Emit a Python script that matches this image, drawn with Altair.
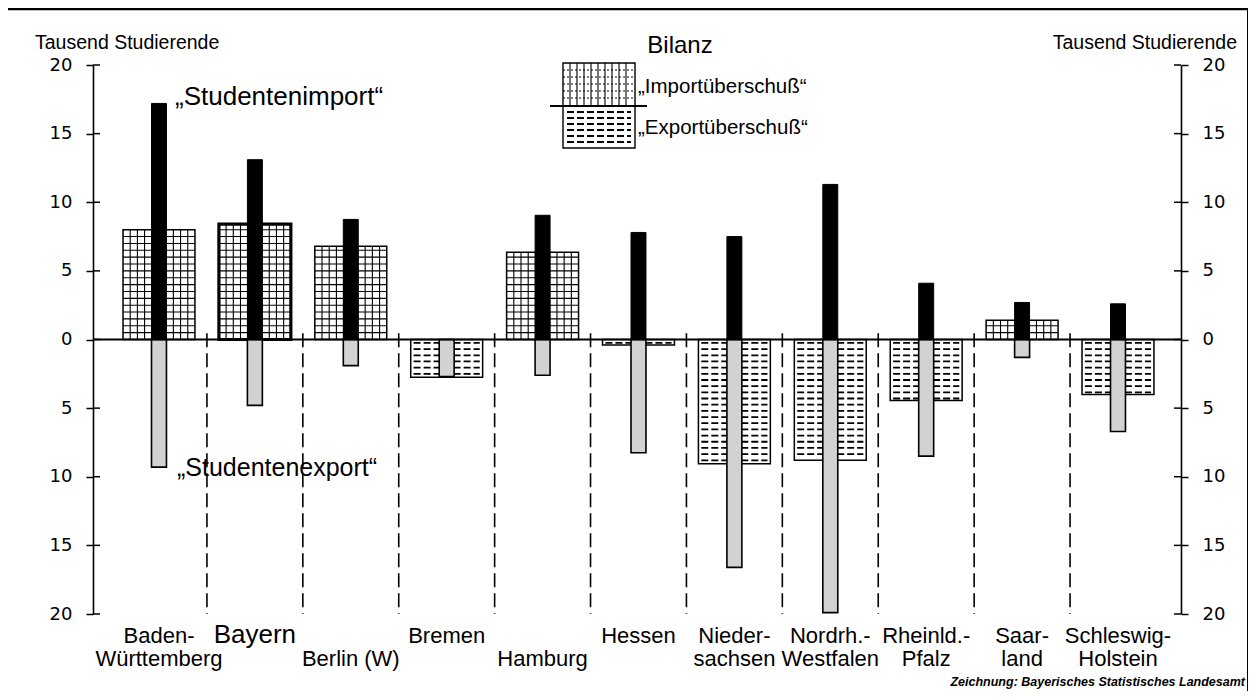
import altair as alt
import pandas as pd
import numpy as np

# ---------------- data (thousand students) ----------------
states = ["Baden-Württemberg", "Bayern", "Berlin (W)", "Bremen", "Hamburg", "Hessen",
          "Niedersachsen", "Nordrhein-Westfalen", "Rheinland-Pfalz", "Saarland",
          "Schleswig-Holstein"]
tick_labels = ["Baden-\nWürttemberg", "Bayern", "\nBerlin (W)", "Bremen", "\nHamburg",
               "Hessen", "Nieder-\nsachsen", "Nordrh.-\nWestfalen", "Rheinld.-\nPfalz",
               "Saar-\nland", "Schleswig-\nHolstein"]
import_k = [17.2, 13.1, 8.75, 0.0, 9.05, 7.8, 7.5, 11.3, 4.1, 2.7, 2.6]
export_k = [9.3, 4.8, 1.9, 2.7, 2.6, 8.25, 16.6, 19.9, 8.5, 1.3, 6.7]
balance_k = [8.0, 8.4, 6.8, -2.75, 6.35, -0.4, -9.05, -8.8, -4.45, 1.4, -4.0]
y_ticks = [-20, -15, -10, -5, 0, 5, 10, 15, 20]

n = len(states)
df = pd.DataFrame({
    "idx": list(range(n)),
    "state": states,
    "label": tick_labels,
    "imp": import_k,
    "exp": [-v for v in export_k],
    "bal": balance_k,
})

# ---------------- geometry / style ----------------
W, H = 1088, 549
FONT = "Liberation Sans"
NUMFONT = "DejaVu Sans"
HW = 0.375      # half width of balance bars (in category units)
HN = 0.078      # half width of import / export bars
xs = alt.Scale(domain=[-0.688, 10.657], nice=False, zero=False)
ys = alt.Scale(domain=[-20, 20], nice=False, zero=False)

X = lambda f: alt.X(f, type="quantitative", scale=xs, axis=None)
Y = lambda f: alt.Y(f, type="quantitative", scale=ys, axis=None)

# pattern helpers derived from the balance values
grid_h, grid_v, dash_rows = [], [], []
for i, b in enumerate(balance_k):
    if b > 0:
        lv = 0.5
        while lv < b - 0.15:
            grid_h.append({"idx": i, "lv": lv})
            lv += 0.5
        for off in np.arange(-0.3, 0.301, 0.075):
            grid_v.append({"idx": i, "off": float(off), "bal": b})
    else:
        lv = -0.25
        while lv > b + 0.12:
            dash_rows.append({"idx": i, "lv": lv})
            lv -= 0.45
grid_h = pd.DataFrame(grid_h)
grid_v = pd.DataFrame(grid_v)
dash_rows = pd.DataFrame(dash_rows)

base = alt.Chart(df)

bal_bars = base.transform_calculate(
    x1=f"datum.idx - {HW}", x2=f"datum.idx + {HW}", z="0"
).mark_rect(fill="white", stroke="black").encode(
    x=X("x1"), x2="x2:Q", y=Y("bal"), y2="z:Q",
    strokeWidth=alt.condition(alt.datum.state == "Bayern", alt.value(3.2), alt.value(1.5)),
)

grid_h_l = alt.Chart(grid_h).transform_calculate(
    x1=f"datum.idx - {HW}", x2=f"datum.idx + {HW}"
).mark_rule(color="black", strokeWidth=1.1).encode(x=X("x1"), x2="x2:Q", y=Y("lv"))

grid_v_l = alt.Chart(grid_v).transform_calculate(
    xx="datum.idx + datum.off", z="0"
).mark_rule(color="black", strokeWidth=1.1).encode(x=X("xx"), y=Y("bal"), y2="z:Q")

dash_l = alt.Chart(dash_rows).transform_calculate(
    x1=f"datum.idx - {HW - 0.03}", x2=f"datum.idx + {HW - 0.03}"
).mark_rule(color="black", strokeWidth=1.8, strokeDash=[7, 3]).encode(
    x=X("x1"), x2="x2:Q", y=Y("lv"))

imp_bars = base.transform_calculate(
    x1=f"datum.idx - {HN}", x2=f"datum.idx + {HN}", z="0"
).mark_rect(fill="black", stroke="black", strokeWidth=1).encode(
    x=X("x1"), x2="x2:Q", y=Y("imp"), y2="z:Q")

exp_bars = base.transform_calculate(
    x1=f"datum.idx - {HN}", x2=f"datum.idx + {HN}", z="0"
).mark_rect(fill="#d2d2d2", stroke="black", strokeWidth=1.6).encode(
    x=X("x1"), x2="x2:Q", y=Y("exp"), y2="z:Q")

sep = base.transform_filter(alt.datum.idx < n - 1).transform_calculate(
    xx="datum.idx + 0.5", top="0.45", bot="-20"
).mark_rule(color="black", strokeWidth=1.6, strokeDash=[14, 6]).encode(
    x=X("xx"), y=Y("top"), y2="bot:Q")

zero = alt.Chart(pd.DataFrame({"z": [0]})).mark_rule(color="black", strokeWidth=2).encode(
    y=Y("z"), x=alt.value(0), x2=alt.value(W))

tick_df = pd.DataFrame({"v": y_ticks})
axis_common = dict(values=y_ticks, labelExpr="'' + abs(datum.value)", title=None, grid=False,
                   domainColor="black", domainWidth=1.6, tickColor="black", tickWidth=1.5,
                   tickSize=7, labelPadding=14, labelFont=NUMFONT, labelFontSize=18,
                   labelColor="black")
left_axis = alt.Chart(tick_df).mark_rule(color="black", strokeWidth=1.5).encode(
    y=alt.Y("v:Q", scale=ys, axis=alt.Axis(orient="left", **axis_common)),
    x=alt.value(0), x2=alt.value(7))
right_axis = alt.Chart(tick_df).mark_rule(color="black", strokeWidth=1.5).encode(
    y=alt.Y("v:Q", scale=ys, axis=alt.Axis(orient="right", **axis_common)),
    x=alt.value(W - 7), x2=alt.value(W))

cat_labels = base.mark_text(font=FONT, lineBreak="\n", lineHeight=23, baseline="alphabetic",
                            align="center", color="black").encode(
    x=X("idx"), y=alt.value(578), text="label:N",
    size=alt.condition(alt.datum.state == "Bayern", alt.value(26), alt.value(22)))


def txt(s, x, y, size, align="left", font=FONT, style="normal", weight="normal"):
    return alt.Chart(pd.DataFrame({"t": [s]})).mark_text(
        font=font, fontSize=size, align=align, baseline="middle", color="black",
        fontStyle=style, fontWeight=weight).encode(
        x=alt.value(x), y=alt.value(y), text="t:N")


texts = [
    txt("Tausend Studierende", -58, -22, 19.5),
    txt("Tausend Studierende", 1144, -22, 19.5, align="right"),
    txt("Bilanz", 587, -19, 24, align="center"),
    txt("\u201eStudentenimport\u201c", 82, 32, 26),
    txt("\u201eStudentenexport\u201c", 84, 403, 25),
    txt("\u201eImportüberschuß\u201c", 545, 22, 20.5),
    txt("\u201eExportüberschuß\u201c", 545, 63, 20.5),
    txt("Zeichnung:  Bayerisches Statistisches Landesamt", 1152, 617, 12.5, align="right",
        style="italic", weight="bold"),
]

# ---------------- legend (decorative, pixel coordinates) ----------------
leg_box = pd.DataFrame({"x1": [470, 470], "x2": [542, 542], "y1": [-2, 41], "y2": [41, 83]})
leg_v = pd.DataFrame({"x": [470 + 7 * k for k in range(1, 10)]})
leg_h = pd.DataFrame({"y": [-2 + 7 * k for k in range(1, 6)]})
leg_d = pd.DataFrame({"y": [47 + 6 * k for k in range(6)]})
PX = lambda f: alt.X(f, type="quantitative", scale=None, axis=None)
PY = lambda f: alt.Y(f, type="quantitative", scale=None, axis=None)

legend = [
    alt.Chart(leg_box).mark_rect(fill="white", stroke="black", strokeWidth=1.4).encode(
        x=PX("x1"), x2="x2:Q", y=PY("y1"), y2="y2:Q"),
    alt.Chart(leg_v).mark_rule(color="black", strokeWidth=1.1).encode(
        x=PX("x"), y=alt.value(-2), y2=alt.value(41)),
    alt.Chart(leg_h).mark_rule(color="black", strokeWidth=1, strokeDash=[2, 2]).encode(
        y=PY("y"), x=alt.value(470), x2=alt.value(542)),
    alt.Chart(leg_d).mark_rule(color="black", strokeWidth=1.8, strokeDash=[7, 3]).encode(
        y=PY("y"), x=alt.value(474), x2=alt.value(538)),
    alt.Chart(pd.DataFrame({"a": [0]})).mark_rule(color="black", strokeWidth=2).encode(
        x=alt.value(457), x2=alt.value(554), y=alt.value(41)),
]

# ---------------- frame ----------------
frame = [
    alt.Chart(pd.DataFrame({"a": [0]})).mark_rule(color="black", strokeWidth=2.5).encode(
        x=alt.value(-87), x2=alt.value(1156), y=alt.value(-56)),
    alt.Chart(pd.DataFrame({"a": [0]})).mark_rule(color="black", strokeWidth=2).encode(
        x=alt.value(-87), y=alt.value(-56), y2=alt.value(626)),
    alt.Chart(pd.DataFrame({"a": [0]})).mark_rule(color="black", strokeWidth=2).encode(
        x=alt.value(1155), y=alt.value(-56), y2=alt.value(626)),
]

chart = alt.layer(
    bal_bars, grid_h_l, grid_v_l, dash_l, imp_bars, exp_bars, sep, zero,
    left_axis, right_axis, cat_labels, *texts, *legend, *frame
).properties(
    width=W, height=H,
    padding={"left": 85, "top": 57, "right": 67, "bottom": 77},
    autosize=alt.AutoSizeParams(type="none"),
    background="white",
).resolve_axis(y="independent").configure_view(stroke=None)

chart.save("out.html", embed_options={"renderer": "svg", "actions": False})
